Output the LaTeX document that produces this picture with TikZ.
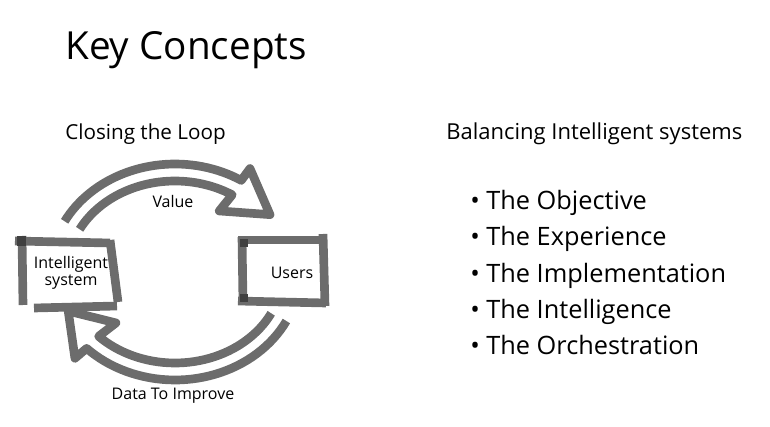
\documentclass[tikz,border=0pt]{standalone}
\usepackage{fontspec}
\setmainfont{Open Sans}
\definecolor{marker}{RGB}{108,108,108}
\begin{document}
\begin{tikzpicture}[x=0.75pt, y=-0.75pt,
  mk/.style={draw=marker, line width=6.5pt},
  txt/.style={inner sep=0pt, anchor=base west},
  item/.style={txt, font=\fontsize{19}{22}\selectfont}]
\useasboundingbox (0,0) rectangle (770,427);
\node[txt, font=\fontsize{29}{34}\selectfont] (title) at (65,60) {Key Concepts};
\node[txt, font=\fontsize{15.5}{19}\selectfont] (loophead) at (65,140) {Closing the Loop};
\node[txt, font=\fontsize{16.5}{19}\selectfont] (balhead) at (446,140) {Balancing Intelligent systems};
\foreach \t [count=\i] in {Objective,Experience,Implementation,Intelligence,Orchestration}
  \node[item] (it\i) at (470,{174+36*\i}) {• The \t};
\draw[mk] (22,236) -- (23,305);\draw[mk] (15,241) -- (110,243);
\draw[mk] (110,240) -- (118,302);\draw[mk] (34,308) -- (117,306);
\fill[black!75] (17,236) rectangle (26,246);
\node[align=center, inner sep=0pt, font=\fontsize{12}{13}\selectfont] (sys) at (71,273) {Intelligent\\system};
\draw[mk] (242,237) -- (243,303);\draw[mk] (238,240) -- (323,240);
\draw[mk] (323,234) -- (325,306);\draw[mk] (238,301) -- (326,303);
\fill[black!75] (240,239) rectangle (248,247);\fill[black!75] (240,294) rectangle (248,302);
\node[inner sep=0pt, font=\fontsize{12}{13}\selectfont] (usr) at (292,273) {Users};
\foreach \a/\b/\c in {-152/-58/-35, 27/135/157}
  \draw[mk, line join=round] plot[domain=\a:\b, samples=40] ({175+108*cos(\x)},{272+91*sin(\x)})
    -- ({175+83.5*cos(\b)},{272+72*sin(\b)}) -- ({175+116*cos(\c)},{272+100*sin(\c)})
    -- ({175+141.5*cos(\b)},{272+122*sin(\b)})
    -- plot[domain=\b:\a, samples=40] ({175+125*cos(\x)},{272+108*sin(\x)});
\node[font=\fontsize{12}{14}\selectfont] (val) at (173,202) {Value};
\node[font=\fontsize{12}{14}\selectfont] (data) at (173,396) {Data To Improve};
\end{tikzpicture}
\end{document}
